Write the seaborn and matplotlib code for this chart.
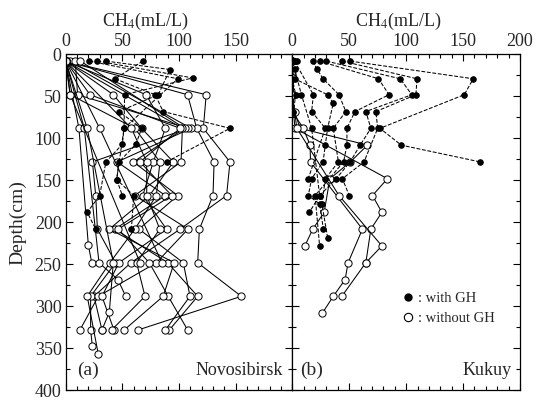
import matplotlib
matplotlib.use("Agg")
import matplotlib.pyplot as plt
from matplotlib.ticker import MultipleLocator
from matplotlib.lines import Line2D
import seaborn as sns

sns.set_theme(style="white")
plt.rcParams['font.family'] = ['Liberation Serif', 'DejaVu Serif']
plt.rcParams['mathtext.fontset'] = 'stix'

# ---------------- Novosibirsk (a) ----------------
# profiles without gas hydrate (open circles, solid)
NOV_OPEN_DEPTH = [
    [8, 48, 88, 128, 168, 208, 248, 288, 328],
    [8, 48, 88, 128, 168, 208, 248, 288, 328],
    [8, 88, 128, 168, 208, 248, 288, 328],
    [8, 48, 88, 128, 168, 208, 248, 288, 328, 347],
    [8, 88, 128, 168, 208, 248, 288, 328],
    [8, 88, 128, 168, 208, 248, 288, 328],
    [8, 48, 88, 128, 168, 208, 248, 288, 328],
    [8, 48, 88, 128, 168, 208, 248, 288, 328],
    [8, 48, 88, 128, 168, 208, 248, 288, 328],
    [8, 48, 88, 128, 168, 208, 248, 288, 357],
    [8, 88, 128, 168, 208, 248, 288, 328],
    [8, 88, 227, 248],
    [8, 88, 248, 268, 288],
    [8, 88, 248, 307, 328],
    [8, 88, 248],
    [8, 48, 248],
]
NOV_OPEN_CH4 = [
    [0, 124, 121.5, 145, 142, 101, 57.6, 25, 32],
    [0, 107.6, 115.6, 131, 130, 118, 116.5, 155, 64],
    [4, 110.6, 45.5, 88, 43.5, 90, 116.5, 91.5],
    [8.5, 10.5, 108, 23.6, 26.5, 28, 44, 22, 22, 23.5],
    [13, 105, 59.7, 98.9, 64.7, 103.8, 109.7, 88],
    [0, 103, 101.8, 61, 108, 80, 28.8, 12.6],
    [0, 21.5, 101, 65.6, 93.6, 46.4, 73.8, 90.5, 107.6],
    [0, 71, 88, 77.3, 68, 89, 47, 32, 42.6],
    [0, 42, 67, 95, 74, 38.5, 95.8, 86, 51.7],
    [0, 4, 61, 83.2, 80, 61, 39, 19, 28.8],
    [0, 58, 71.5, 71.5, 83, 62.6, 70, 40.6],
    [0, 11.7, 20, 23],
    [0, 16.4, 29.4, 46, 53],
    [0, 19, 42, 38.5, 32],
    [0, 30, 85],
    [0, 4, 65.6],
]
# profiles with gas hydrate (filled circles, dashed)
NOV_GH_DEPTH = [
    [8, 29, 48, 68, 88, 128],
    [8, 18, 48, 68, 88, 107, 128, 149, 168, 208],
    [8, 28, 48, 88, 107, 128, 168, 188, 208],
    [8, 29, 88, 149, 168],
]
NOV_GH_CH4 = [
    [68, 43.5, 79, 86, 145, 89],
    [35.6, 92, 81.7, 47, 67, 62, 47, 45, 60, 58],
    [28, 112, 52, 51.5, 50, 35.5, 30, 19, 26.5],
    [21, 99, 51.5, 45, 50],
]

# ---------------- Kukuy (b) ----------------
KUK_OPEN_DEPTH = [
    [8, 28, 48, 68, 88, 148, 168, 188, 208, 248, 288],
    [8, 28, 48, 68, 88, 108, 128, 148, 188, 208, 228],
    [8, 28, 48, 68, 88, 108, 128, 208, 248, 268, 288, 308],
    [8, 48, 88, 168, 228, 248],
]
KUK_OPEN_CH4 = [
    [0, 0, 0, 1, 2.4, 83.6, 70.4, 78.7, 69, 64.6, 43.5],
    [0, 0, 0, 2, 6.8, 66, 51, 33, 28, 18, 11],
    [0, 1, 1, 0, 9.7, 15.6, 16, 61.6, 49, 46.4, 36, 26.4],
    [0, 0, 4, 41, 78.7, 64.6],
]
KUK_GH_DEPTH = [
    [8, 29, 48, 88, 108, 128],
    [8, 29, 48, 68, 88, 128, 148, 168],
    [8, 29, 48, 68, 88, 108, 128, 148, 168, 188],
    [8, 29, 48, 68, 88, 108, 128, 168, 228],
    [8, 17, 29, 48, 68, 88, 128, 148, 178, 218],
    [8, 29, 48, 58, 88, 108, 128, 148, 168, 178, 208],
    [8, 48, 68, 88, 148],
    [8, 17, 48, 88, 168],
    [8, 29, 48, 68],
]
KUK_GH_CH4 = [
    [51, 159, 151, 77, 95.7, 165],
    [44, 109.5, 108.6, 73.4, 75, 63, 44, 50],
    [30, 94.8, 105, 64.6, 69, 59.6, 50.8, 38.5, 24, 15],
    [24, 75.7, 85, 55, 48, 48, 45, 20, 24],
    [18, 21.5, 27, 41, 47, 36, 40.5, 29, 26, 31],
    [4, 2, 31, 36, 31, 29, 27, 17, 14, 24, 27.3],
    [2, 18.5, 17, 29, 14],
    [0, 2, 8, 17, 24],
    [1, 0, 3, 1],
]

X_TICKS = [0, 50, 100, 150, 200]
LEFT_XLABELS = ["0", "50", "100", "150", ""]
RIGHT_XLABELS = ["0", "50", "100", "150", "200"]
Y_TICKS = [0, 50, 100, 150, 200, 250, 300, 350, 400]

FS = 13
fig = plt.figure(figsize=(5.42, 4.0), dpi=100)
axa = fig.add_axes([0.1212, 0.024, 0.4181, 0.840])
axb = fig.add_axes([0.5393, 0.024, 0.4201, 0.840])


def draw(ax, depths, vals, filled):
    for d, v in zip(depths, vals):
        sns.lineplot(x=v, y=d, ax=ax, sort=False, estimator=None,
                     color="black", lw=0.75,
                     linestyle="--" if filled else "-",
                     marker="o",
                     markersize=4 if filled else 5.2,
                     markerfacecolor="black" if filled else "white",
                     markeredgecolor="black", markeredgewidth=0.7,
                     zorder=3 if filled else 2)


draw(axa, NOV_OPEN_DEPTH, NOV_OPEN_CH4, False)
draw(axa, NOV_GH_DEPTH, NOV_GH_CH4, True)
draw(axb, KUK_OPEN_DEPTH, KUK_OPEN_CH4, False)
draw(axb, KUK_GH_DEPTH, KUK_GH_CH4, True)

for ax, xl, lx in ((axa, LEFT_XLABELS, 0.35), (axb, RIGHT_XLABELS, 0.464)):
    ax.set_xlim(0, 200)
    ax.set_ylim(400, 0)
    ax.set_xticks(X_TICKS)
    ax.set_xticklabels(xl)
    ax.set_yticks(Y_TICKS)
    ax.xaxis.set_minor_locator(MultipleLocator(10))
    ax.yaxis.set_minor_locator(MultipleLocator(25))
    ax.tick_params(which="both", direction="in", top=True, bottom=True,
                   left=True, right=True, labeltop=True, labelbottom=False,
                   labelsize=FS, pad=3, color="black", width=0.8)
    ax.tick_params(which="major", length=5)
    ax.tick_params(which="minor", length=3)
    ax.xaxis.set_label_position("top")
    ax.set_xlabel("CH$_4$(mL/L)", fontsize=FS, labelpad=5, x=lx)
    for s in ax.spines.values():
        s.set_color("black")
        s.set_linewidth(0.9)
    ax.set_ylabel("")

axa.set_ylabel("Depth(cm)", fontsize=FS + 1, labelpad=6)
axb.tick_params(labelleft=False)

axa.text(0.05, 0.035, "(a)", transform=axa.transAxes, fontsize=FS + 1, ha="left", va="bottom")
axa.text(0.96, 0.035, "Novosibirsk", transform=axa.transAxes, fontsize=FS, ha="right", va="bottom")
axb.text(0.035, 0.035, "(b)", transform=axb.transAxes, fontsize=FS + 1, ha="left", va="bottom")
axb.text(0.965, 0.035, "Kukuy", transform=axb.transAxes, fontsize=FS, ha="right", va="bottom")

handles = [
    Line2D([], [], ls="none", marker="o", markersize=5, markerfacecolor="black",
           markeredgecolor="black"),
    Line2D([], [], ls="none", marker="o", markersize=6, markerfacecolor="white",
           markeredgecolor="black", markeredgewidth=0.8),
]
axb.legend(handles, [": with GH", ": without GH"], loc="upper left",
           bbox_to_anchor=(0.455, 0.31), frameon=False, fontsize=10.5,
           handlelength=0.8, handletextpad=0.3, labelspacing=0.45,
           borderaxespad=0)

fig.savefig("out.png", dpi=100)
